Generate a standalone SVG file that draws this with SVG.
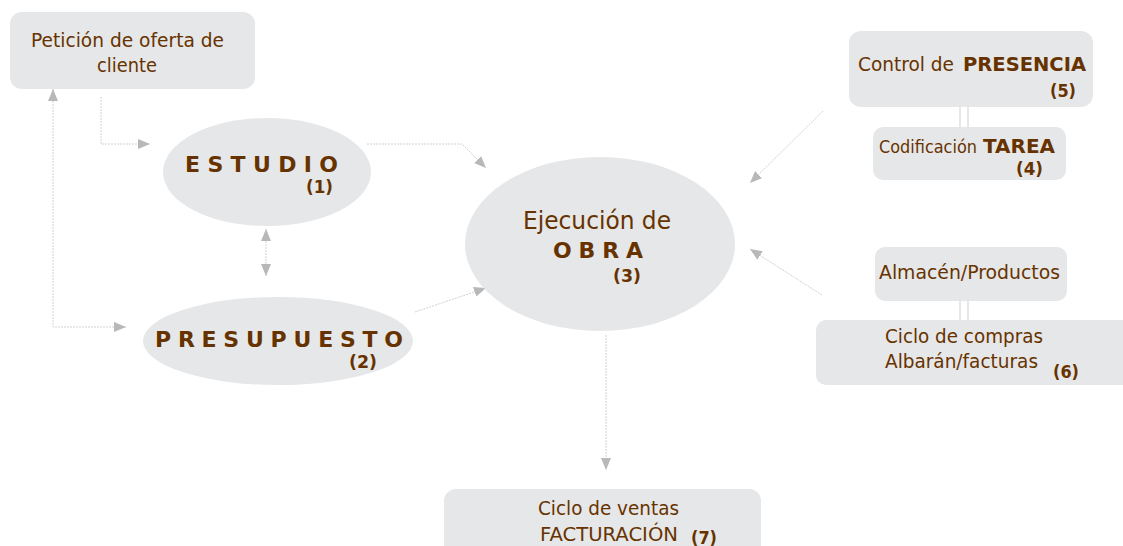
<svg xmlns="http://www.w3.org/2000/svg" width="1123" height="546" viewBox="0 0 1123 546">
<style>
.box{fill:#e6e7e8}
.t{font-family:"DejaVu Sans",Verdana,sans-serif;fill:#663300}
.b{font-weight:bold}
.con{fill:none;stroke:#d2d2d2;stroke-width:1;stroke-dasharray:2 1}
.dbl{stroke:#cfcfcf;stroke-width:1}
</style>
<defs>
<marker id="ah" viewBox="0 0 12 10" refX="12" refY="5" markerWidth="12" markerHeight="10" markerUnits="userSpaceOnUse" orient="auto-start-reverse">
<path d="M0,0 L12,5 L0,10 z" fill="#b8b8b8"/>
</marker>
</defs>
<g id="connectors">
<path class="con" d="M101,97 V144 H150" marker-end="url(#ah)"/>
<path class="con" d="M53,89 V327 H126" marker-start="url(#ah)" marker-end="url(#ah)"/>
<path class="con" d="M266,229 V276" marker-start="url(#ah)" marker-end="url(#ah)"/>
<path class="con" d="M367,144 H462 L486,168" marker-end="url(#ah)"/>
<path class="con" d="M415,312 L486,288" marker-end="url(#ah)"/>
<path class="con" d="M823,111 L750,183" marker-end="url(#ah)"/>
<path class="con" d="M822,295 L750,249" marker-end="url(#ah)"/>
<path class="con" d="M606,335 V470" marker-end="url(#ah)"/>
<line class="dbl" x1="960" y1="107" x2="960" y2="127"/>
<line class="dbl" x1="968" y1="107" x2="968" y2="127"/>
<line class="dbl" x1="960" y1="301" x2="960" y2="320"/>
<line class="dbl" x1="968" y1="301" x2="968" y2="320"/>
</g>
<g id="peticion">
<rect class="box" x="10" y="12" width="245" height="77" rx="12"/>
<text class="t" x="31" y="47" font-size="20" textLength="193" lengthAdjust="spacingAndGlyphs">Petición de oferta de</text>
<text class="t" x="97" y="72" font-size="20" textLength="60" lengthAdjust="spacingAndGlyphs">cliente</text>
</g>
<g id="estudio">
<ellipse class="box" cx="267" cy="172" rx="104" ry="54"/>
<text class="t b" x="185" y="172" font-size="22" textLength="153" lengthAdjust="spacing">E S T U D I O</text>
<text class="t b" x="306" y="193" font-size="17" textLength="27" lengthAdjust="spacingAndGlyphs">(1)</text>
</g>
<g id="presupuesto">
<ellipse class="box" cx="278" cy="341" rx="135" ry="44"/>
<text class="t b" x="155" y="347" font-size="22" textLength="248" lengthAdjust="spacing">P R E S U P U E S T O</text>
<text class="t b" x="349" y="368" font-size="17" textLength="28" lengthAdjust="spacingAndGlyphs">(2)</text>
</g>
<g id="obra">
<ellipse class="box" cx="600" cy="244" rx="135" ry="87"/>
<text class="t" x="523" y="229" font-size="25" textLength="148" lengthAdjust="spacingAndGlyphs">Ejecución de</text>
<text class="t b" x="553" y="258" font-size="22" textLength="90" lengthAdjust="spacing">O B R A</text>
<text class="t b" x="613" y="282" font-size="17" textLength="28" lengthAdjust="spacingAndGlyphs">(3)</text>
</g>
<g id="presencia">
<rect class="box" x="849" y="31" width="244" height="76" rx="12"/>
<text class="t" x="858" y="71" font-size="20" textLength="96" lengthAdjust="spacingAndGlyphs">Control de</text>
<text class="t b" x="963" y="71" font-size="20" textLength="123" lengthAdjust="spacingAndGlyphs">PRESENCIA</text>
<text class="t b" x="1050" y="97" font-size="17" textLength="26" lengthAdjust="spacingAndGlyphs">(5)</text>
</g>
<g id="tarea">
<rect class="box" x="873" y="127" width="193" height="53" rx="10"/>
<text class="t" x="879" y="153" font-size="17" textLength="98" lengthAdjust="spacingAndGlyphs">Codificación</text>
<text class="t b" x="983" y="153" font-size="19" textLength="72" lengthAdjust="spacingAndGlyphs">TAREA</text>
<text class="t b" x="1016" y="175" font-size="17" textLength="27" lengthAdjust="spacingAndGlyphs">(4)</text>
</g>
<g id="almacen">
<rect class="box" x="875" y="247" width="192" height="54" rx="10"/>
<text class="t" x="879" y="279" font-size="20" textLength="181" lengthAdjust="spacingAndGlyphs">Almacén/Productos</text>
</g>
<g id="compras">
<rect class="box" x="816" y="320" width="320" height="65" rx="10"/>
<text class="t" x="885" y="343" font-size="20" textLength="158" lengthAdjust="spacingAndGlyphs">Ciclo de compras</text>
<text class="t" x="885" y="368" font-size="20" textLength="153" lengthAdjust="spacingAndGlyphs">Albarán/facturas</text>
<text class="t b" x="1053" y="378" font-size="17" textLength="26" lengthAdjust="spacingAndGlyphs">(6)</text>
</g>
<g id="ventas">
<rect class="box" x="444" y="489" width="317" height="70" rx="12"/>
<text class="t" x="538" y="515" font-size="20" textLength="141" lengthAdjust="spacingAndGlyphs">Ciclo de ventas</text>
<text class="t" x="540" y="541" font-size="20" textLength="138" lengthAdjust="spacingAndGlyphs">FACTURACIÓN</text>
<text class="t b" x="691" y="544" font-size="17" textLength="26" lengthAdjust="spacingAndGlyphs">(7)</text>
</g>
</svg>
